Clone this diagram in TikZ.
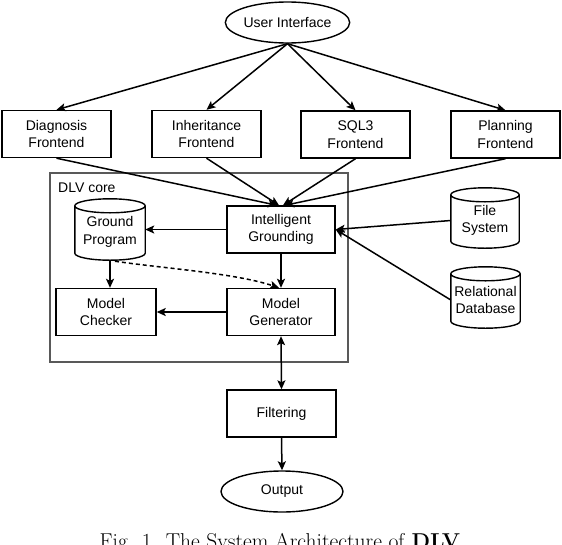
\documentclass[tikz,border=0pt]{standalone}
\usepackage{fontspec}
\newfontfamily\arialf{Liberation Sans}
\usetikzlibrary{arrows.meta,calc,shapes.geometric}
% cylinder outline around a node; frame raised by 2.5pt relative to the node
\newcommand\cylframe[1]{%
  \draw[line width=1.4pt] let \p1=(#1.north west), \p2=(#1.south east) in
   ({(\x1+\x2)/2},\y1-4.5pt) ellipse[x radius={(\x2-\x1)/2}, y radius=7pt]
   (\x1,\y1-4.5pt) -- (\x1,\y2+9.5pt) arc[start angle=180,end angle=360,x radius={(\x2-\x1)/2},y radius=7pt] -- (\x2,\y1-4.5pt);}
\begin{document}
\begin{tikzpicture}[x=1pt,y=1pt,
  lbl/.style={font=\arialf\fontsize{14}{17.5}\selectfont, align=center},
  box/.style={lbl, draw, line width=1.4pt, inner sep=0pt, minimum width=109pt, minimum height=47pt},
  oval/.style={lbl, draw, ellipse, line width=1.4pt, minimum width=123pt, minimum height=41pt, inner sep=0pt},
  cyl/.style={lbl, inner sep=0pt, minimum width=69pt, minimum height=61pt},
  conn/.style={line width=1.5pt, -{Stealth[length=9pt,width=8pt,inset=2pt]}},
]
\useasboundingbox (0,0) rectangle (562,-544);

% DLV core container
\node[draw=black!65, line width=1.5pt, minimum width=298pt, minimum height=189pt, inner sep=0pt] (core) at (199,-267.5) {};
\node[lbl, anchor=base west, inner sep=0pt] (corelbl) at (58,-192.5) {DLV core};

\node[oval] (ui) at (287.5,-22.5) {User Interface};

\node[box] (diag) at (56.5,-134) {Diagnosis\\Frontend};
\node[box] (inh) at (206.5,-134) {Inheritance\\Frontend};
\node[box] (sql) at (355.5,-134.5) {SQL3\\Frontend};
\node[box] (plan) at (505.5,-134.5) {Planning\\Frontend};

\node[box, minimum width=108pt] (ig) at (281,-229.5) {Intelligent\\Grounding};
\node[box, minimum width=108pt] (mg) at (281,-312) {Model\\Generator};
\node[box, minimum width=100pt] (mc) at (106,-312) {Model\\Checker};

\node[cyl, minimum width=70pt] (gp) at (110,-232) {Ground\\Program};
\node[cyl, minimum width=68pt, minimum height=60pt] (fs) at (485,-220.5) {File\\System};
\node[cyl] (rd) at (485.5,-300) {Relational\\Database};
\cylframe{gp}
\cylframe{fs}
\cylframe{rd}

\node[box] (filt) at (281.5,-413.5) {Filtering};
\node[oval, minimum width=122pt] (out) at (282,-491.5) {Output};

\node[anchor=base, font=\fontsize{21.5}{24}\selectfont, inner sep=0pt] (cap) at (280,-548) {Fig. 1. The System Architecture of \textbf{DLV}};

% connectors
\draw[conn] (ui.south) -- (diag.north);
\draw[conn] (ui.south) -- (inh.north);
\draw[conn] (ui.south) -- (sql.north);
\draw[conn] (ui.south) -- (plan.north);

\draw[conn] (diag.south) -- ($(ig.north)+(-4,0)$);
\draw[conn] (inh.south) -- ($(ig.north)+(-2,0)$);
\draw[conn] (sql.south) -- ($(ig.north)+(2,0)$);
\draw[conn] (plan.south) -- ($(ig.north)+(4,0)$);

\draw[conn] (fs.west) -- (ig.east);
\draw[conn] (rd.west) -- (ig.east);
\draw[conn] (ig.west) -- (gp.east |- ig.west);
\draw[conn] ($(gp.south)+(0,2.5)$) -- (gp.south |- mc.north);
\draw[conn] (ig.south) -- (mg.north);
\draw[conn, dash pattern=on 4pt off 3pt] ($(gp.south)+(5,1.5)$) .. controls (160,-268) and (235,-273) .. ($(mg.north)+(-2,0)$);
\draw[conn] (mg.west) -- (mc.east);
\draw[line width=1.5pt, {Stealth[length=9pt,width=8pt,inset=2pt]}-{Stealth[length=9pt,width=8pt,inset=2pt]}] (mg.south) -- (filt.north);
\draw[conn] (filt.south) -- (out.north);
\end{tikzpicture}
\end{document}
